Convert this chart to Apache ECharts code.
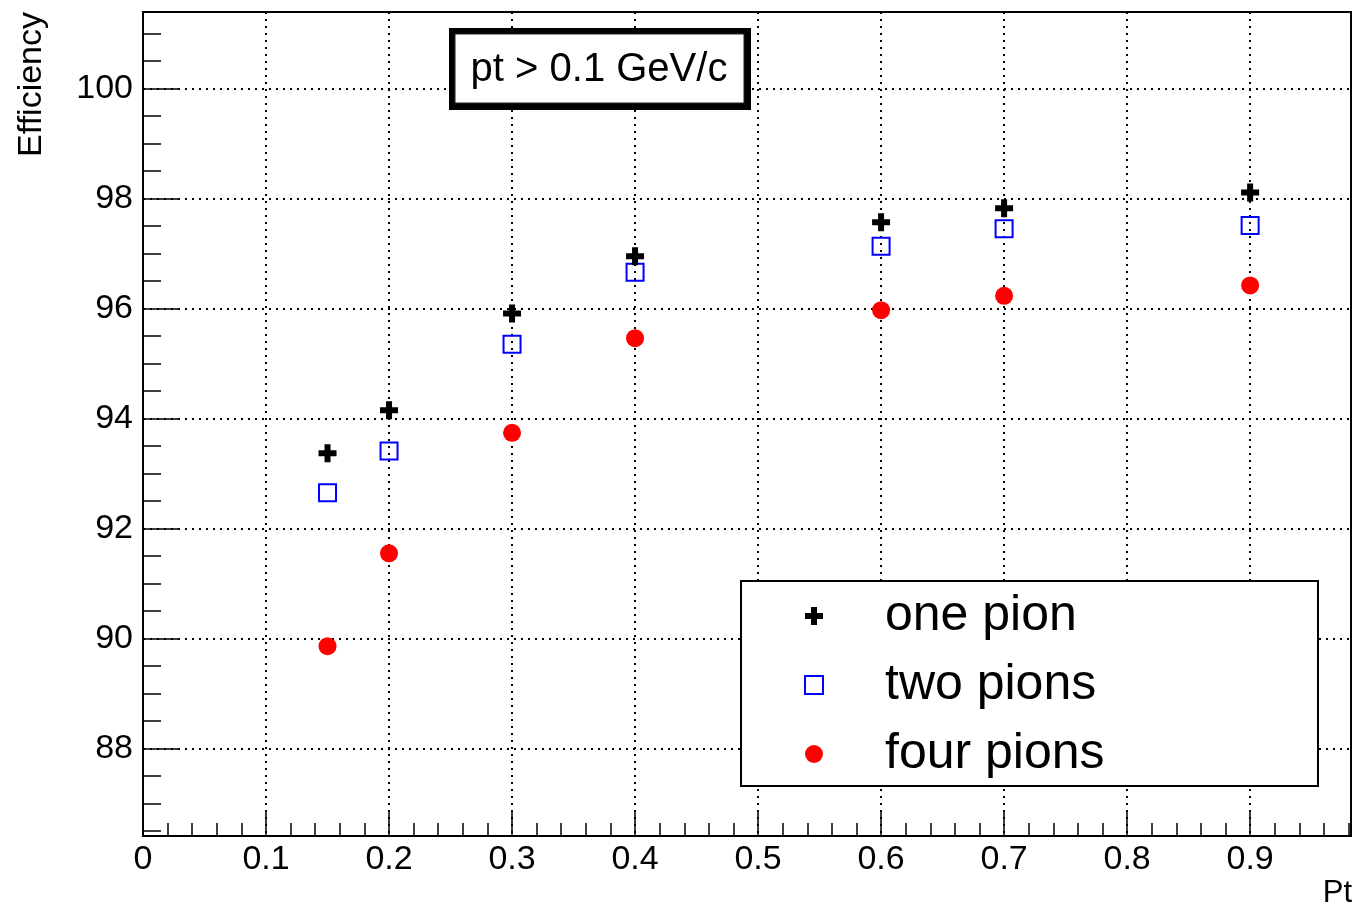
<!DOCTYPE html>
<html>
<head>
<meta charset="utf-8">
<script src="https://cdn.jsdelivr.net/npm/echarts@6/dist/echarts.min.js"></script>
<style>
html,body{margin:0;padding:0;background:#fff;}
#chart{width:1359px;height:913px;}
</style>
</head>
<body>
<div id="chart"></div>
<script>
// ---- data ----
const pt = [0.15, 0.2, 0.3, 0.4, 0.6, 0.7, 0.9];
const onePion = [93.37, 94.15, 95.91, 96.95, 97.57, 97.82, 98.11];
const twoPions = [92.65, 93.41, 95.35, 96.66, 97.13, 97.45, 97.51];
const fourPions = [89.86, 91.55, 93.74, 95.46, 95.97, 96.23, 96.42];
const seriesNames = ['one pion', 'two pions', 'four pions'];
const xTickLabels = [0, 0.1, 0.2, 0.3, 0.4, 0.5, 0.6, 0.7, 0.8, 0.9];
const yTickLabels = [88, 90, 92, 94, 96, 98, 100];
const xRange = [0, 0.982];
const yRange = [86.41, 101.39];
const boxText = 'pt > 0.1 GeV/c';
const xTitle = 'Pt';
const yTitle = 'Efficiency';

// minor tick positions (axis decoration)
const xMinor = [];
for (let i = 0; i <= 49; i++) xMinor.push(+(i * 0.02).toFixed(2));
const yMinor = [];
for (let v = 86.5; v <= 101.0001; v += 0.5) yMinor.push(+v.toFixed(1));

const FONT = '"Liberation Sans", Arial, Helvetica, sans-serif';
const zip = (xs, ys) => xs.map((x, i) => [x, ys[i]]);
const crossPath = 'path://M-1,-3L1,-3L1,-1L3,-1L3,1L1,1L1,3L-1,3L-1,1L-3,1L-3,-1L-1,-1Z';
const dotted = { color: '#000', width: 2, type: [2, 5] };

const chart = echarts.init(document.getElementById('chart'), null, { renderer: 'canvas' });
chart.setOption({
  backgroundColor: '#fff',
  animation: false,
  textStyle: { fontFamily: FONT },
  grid: { left: 143, right: 8, top: 12, bottom: 77, show: true, borderColor: '#000', borderWidth: 2, containLabel: false },
  xAxis: [
    {
      type: 'value', position: 'bottom', min: xRange[0], max: xRange[1], interval: 0.1,
      axisLine: { show: true, onZero: false, lineStyle: { color: '#000', width: 2 } },
      axisTick: { show: true, inside: true, length: 24, lineStyle: { color: '#000', width: 1.5 }, customValues: xTickLabels },
      axisLabel: { customValues: xTickLabels, fontSize: 34, color: '#000', margin: 7, fontFamily: FONT,
        formatter: v => (v === 0 ? '0' : v.toFixed(1)) },
      splitLine: { show: true, lineStyle: dotted },
      minorTick: { show: false }
    },
    {
      type: 'value', position: 'bottom', min: xRange[0], max: xRange[1], interval: 0.1,
      axisLine: { show: false },
      axisTick: { show: true, inside: true, length: 13, lineStyle: { color: '#000', width: 1.5 }, customValues: xMinor },
      axisLabel: { show: false },
      splitLine: { show: false }
    }
  ],
  yAxis: [
    {
      type: 'value', position: 'left', min: yRange[0], max: yRange[1], splitNumber: 7,
      axisLine: { show: true, onZero: false, lineStyle: { color: '#000', width: 2 } },
      axisTick: { show: true, inside: true, length: 35, lineStyle: { color: '#000', width: 1.5 }, customValues: yTickLabels },
      axisLabel: { customValues: yTickLabels, fontSize: 34, color: '#000', margin: 10, fontFamily: FONT },
      splitLine: { show: true, lineStyle: dotted },
      minorTick: { show: false }
    },
    {
      type: 'value', position: 'left', min: yRange[0], max: yRange[1], splitNumber: 7,
      axisLine: { show: false },
      axisTick: { show: true, inside: true, length: 18, lineStyle: { color: '#000', width: 1.5 }, customValues: yMinor },
      axisLabel: { show: false },
      splitLine: { show: false }
    }
  ],
  legend: {
    data: seriesNames,
    orient: 'vertical',
    left: 804, top: 590,
    padding: 0,
    itemWidth: 18, itemHeight: 18, itemGap: 17,
    selectedMode: false,
    z: 10,
    textStyle: { fontSize: 50, lineHeight: 52, color: '#000', fontFamily: FONT, padding: [0, 0, 0, 57] }
  },
  series: [
    {
      name: seriesNames[0], type: 'scatter', data: zip(pt, onePion),
      symbol: crossPath, symbolSize: 18,
      itemStyle: { color: '#000', opacity: 1 }, z: 4
    },
    {
      name: seriesNames[1], type: 'scatter', data: zip(pt, twoPions),
      symbol: 'rect', symbolSize: 17,
      itemStyle: { color: 'rgba(255,255,255,0)', borderColor: '#0000ff', borderWidth: 2, opacity: 1 }, z: 3
    },
    {
      name: seriesNames[2], type: 'scatter', data: zip(pt, fourPions),
      symbol: 'circle', symbolSize: 18,
      itemStyle: { color: '#ff0000', opacity: 1 }, z: 3
    }
  ],
  graphic: [
    { type: 'rect', z: 6, shape: { x: 741, y: 581, width: 577, height: 205 },
      style: { fill: '#fff', stroke: '#000', lineWidth: 2 } },
    { type: 'rect', z: 6, shape: { x: 449, y: 28, width: 302, height: 82 },
      style: { fill: '#000' } },
    { type: 'rect', z: 6, shape: { x: 455, y: 34, width: 289, height: 69 },
      style: { fill: '#fff', stroke: '#222', lineWidth: 1 } },
    { type: 'text', z: 7, x: 599, y: 70,
      style: { text: boxText, fontSize: 40, fontFamily: FONT, fill: '#000', textAlign: 'center', textVerticalAlign: 'middle' } },
    { type: 'text', z: 7, x: 32, y: 12, rotation: Math.PI / 2,
      style: { text: yTitle, fontSize: 34, fontFamily: FONT, fill: '#000', textAlign: 'right', textVerticalAlign: 'middle' } },
    { type: 'text', z: 7, x: 1352, y: 893,
      style: { text: xTitle, fontSize: 31, fontFamily: FONT, fill: '#000', textAlign: 'right', textVerticalAlign: 'middle' } }
  ]
});
</script>
</body>
</html>
